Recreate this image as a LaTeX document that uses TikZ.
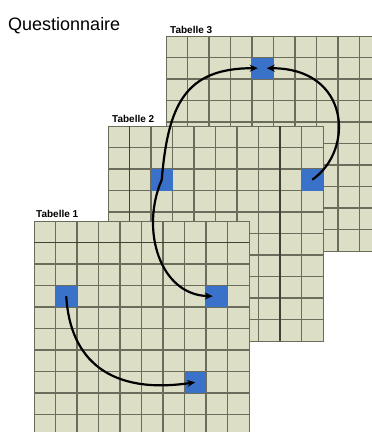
\documentclass[tikz,border=0pt]{standalone}
\usepackage{fontspec}
\setsansfont{Liberation Sans}
\usepackage{tikz}
\usetikzlibrary{arrows.meta}
\definecolor{sheet}{HTML}{DCDEC6}
\definecolor{gridcol}{HTML}{6B6C5C}
\definecolor{cellblue}{HTML}{3B72C9}

\begin{document}
\begin{tikzpicture}[x=1pt, y=-1pt,
  tab/.style={draw=gridcol, fill=sheet, line width=1.2pt, anchor=north west, minimum size=215pt, inner sep=0pt},
  cell/.style={fill=cellblue, minimum size=21.5pt, inner sep=0pt},
  gl/.style={draw=gridcol, line width=1.1pt},
  gthick/.style={draw=gridcol!60!black, line width=1.8pt},
  lab/.style={font=\sffamily\bfseries\fontsize{10}{12}\selectfont, anchor=base west, inner sep=0pt},
  arr/.style={-{Stealth[length=8pt,width=7pt]}, line width=2.2pt}]
\useasboundingbox (0,0) rectangle (372,432);
\clip (0,0) rectangle (372,432);
\node[font=\sffamily\fontsize{18}{20}\selectfont, anchor=base west, inner sep=0pt] (title) at (8,30) {Questionnaire};
% Tabelle 3
\node[lab] (l3) at (170,33) {Tabelle 3};
\node[tab] (t3) at (166,36) {};
\foreach \i in {1,...,9} {
  \draw[gl] (166+\i*21.5,36) -- ++(0,215);
  \draw[gl] (166,36+\i*21.5) -- ++(215,0);
}
\node[cell] (b3) at (262.75,68.25) {};
% Tabelle 2
\node[lab] (l2) at (112,122) {Tabelle 2};
\node[tab] (t2) at (108,126) {};
\foreach \i in {1,...,9} {
  \draw[gl] (108+\i*21.5,126) -- ++(0,215);
  \draw[gl] (108,126+\i*21.5) -- ++(215,0);
}
\draw[gthick] (129.5,126) -- ++(0,215);
\draw[gthick] (280,126) -- ++(0,215);
\node[cell] (b2a) at (161.75,179.75) {};
\node[cell] (b2b) at (312.25,179.75) {};
% Tabelle 1
\node[lab] (l1) at (36,217) {Tabelle 1};
\node[tab] (t1) at (34,221) {};
\foreach \i in {1,...,9} {
  \draw[gl] (34+\i*21.5,221) -- ++(0,215);
  \draw[gl] (34,221+\i*21.5) -- ++(215,0);
}
\draw[gthick] (34,242.5) -- ++(215,0);
\node[cell] (b1a) at (66.25,296.25) {};
\node[cell] (b1b) at (216.75,296.25) {};
\node[cell] (b1c) at (195.25,382.25) {};
% links
\draw[arr, shorten >=5pt] (b2a.center) .. controls (168,105) and (185,68) .. (b3.center);
\draw[arr, shorten >=4pt] (b2b.center) .. controls (355,150) and (350,68) .. (b3.center);
\draw[arr] (b1a.center) .. controls (70,360) and (110,395) .. (b1c.center);
\draw[arr, shorten >=4pt] (b2a.center) .. controls (140,230) and (160,295) .. (b1b.center);
\end{tikzpicture}
\end{document}
